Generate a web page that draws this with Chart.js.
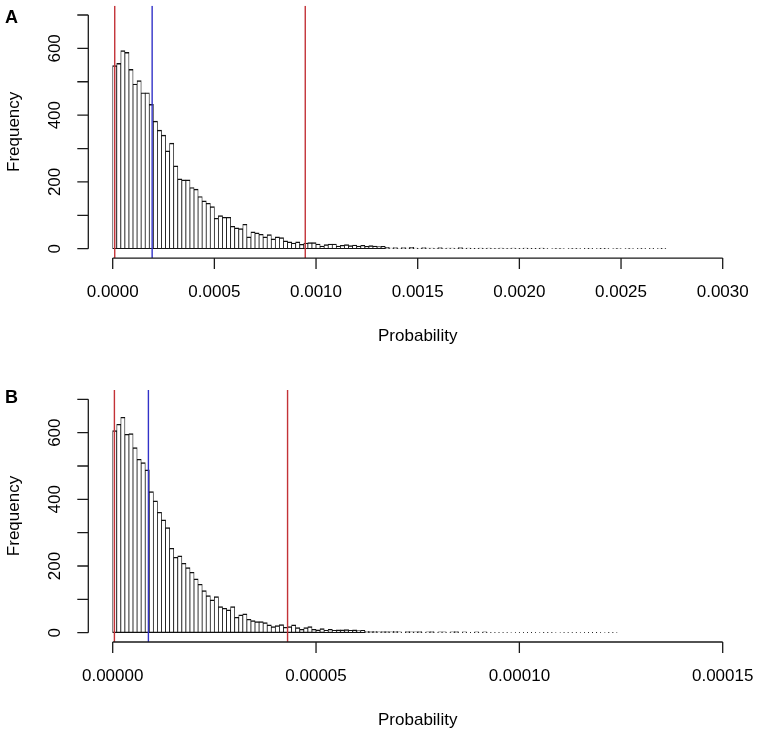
<!DOCTYPE html>
<html>
<head>
<meta charset="utf-8">
<script src="https://cdn.jsdelivr.net/npm/chart.js@4.4.1/dist/chart.umd.min.js"></script>
<style>
  html, body { margin: 0; padding: 0; background: #fff; }
  canvas { display: block; }
</style>
</head>
<body>
<canvas id="chartA" width="758" height="365"></canvas>
<canvas id="chartB" width="758" height="366"></canvas>
<script>
// histogram A: bins of 0.00002 starting at 0
const binStartA = 0;
const binWidthA = 0.00002;
const countsA = [
  548, 555, 593, 588, 537, 493, 503, 467, 467, 432,
  382, 355, 340, 293, 316, 248, 209, 206, 206, 183,
  178, 156, 143, 136, 126, 91, 99, 94, 94, 67,
  62, 60, 73, 35, 50, 47, 43, 35, 42, 29,
  35, 33, 23, 20, 17, 20, 13, 17, 18, 18,
  14, 8, 12, 14, 14, 8, 10, 12, 9, 11,
  8, 10, 7, 9, 8, 6, 7, 4, 2, 3,
  1, 3, 2, 4, 2, 1, 3, 2, 2, 1,
  3, 1, 2, 2, 1, 3, 1, 2, 1, 1,
  2, 1, 2, 1, 1, 2, 1, 1, 2, 1,
  1, 2, 1, 1, 1, 2, 1, 0, 1, 1,
  1, 0, 1, 1, 1, 0, 1, 1, 0, 1,
  1, 1, 0, 1, 1, 0, 1, 1, 0, 1,
  1, 0, 1, 0, 1, 1
];
const vlinesRedA = [0.00001, 0.000947];
const vlinesBlueA = [0.000194];
const xTicksA = [0, 0.0005, 0.001, 0.0015, 0.002, 0.0025, 0.003];

// histogram B: bins of 0.000001 starting at 0
const binStartB = 0;
const binWidthB = 0.000001;
const countsB = [
  606, 625, 646, 595, 597, 555, 520, 510, 488, 423,
  395, 361, 338, 315, 253, 226, 230, 208, 195, 181,
  161, 145, 126, 111, 98, 108, 78, 73, 68, 78,
  46, 53, 56, 40, 36, 33, 33, 30, 23, 18,
  21, 24, 16, 18, 23, 15, 10, 15, 18, 10,
  8, 12, 7, 10, 7, 8, 8, 9, 7, 8,
  6, 7, 4, 3, 4, 2, 3, 3, 2, 4,
  2, 1, 3, 2, 2, 3, 1, 2, 3, 1,
  2, 2, 1, 2, 3, 1, 2, 1, 1, 2,
  1, 2, 1, 1, 1, 1, 1, 1, 0, 1,
  1, 1, 1, 1, 0, 1, 1, 1, 1, 0,
  1, 1, 1, 1, 1, 0, 1, 1, 1, 1,
  0, 1, 1, 1
];
const vlinesRedB = [0.00000042, 0.000043];
const vlinesBlueB = [0.00000878];
const xTicksB = [0, 0.00005, 0.0001, 0.00015];

const yTicks = [0, 100, 200, 300, 400, 500, 600, 700];
const yLabels = [0, 200, 400, 600];

const FONT = '"Liberation Sans", Arial, Helvetica, sans-serif';

// R-style detached axes drawn from the chart's own scales
const rAxes = {
  id: 'rAxes',
  afterDraw(chart, args, opts) {
    const { ctx, chartArea } = chart;
    const x = chart.scales.x, y = chart.scales.y;
    const tick = 11;
    ctx.save();
    ctx.strokeStyle = '#1a1a1a';
    ctx.fillStyle = '#000';
    ctx.lineWidth = 1.3;

    // x axis
    const ax = chartArea.bottom;
    const x0 = x.getPixelForValue(opts.xTicks[0]);
    const x1 = x.getPixelForValue(opts.xTicks[opts.xTicks.length - 1]);
    ctx.beginPath();
    ctx.moveTo(x0, ax); ctx.lineTo(x1, ax);
    opts.xTicks.forEach(v => {
      const px = x.getPixelForValue(v);
      ctx.moveTo(px, ax); ctx.lineTo(px, ax + tick);
    });
    ctx.stroke();
    ctx.font = '17px ' + FONT;
    ctx.textAlign = 'center';
    ctx.textBaseline = 'middle';
    opts.xTicks.forEach(v => {
      ctx.fillText(v.toFixed(opts.digits), x.getPixelForValue(v), ax + 34);
    });
    ctx.fillText('Probability', (chartArea.left + chartArea.right) / 2, ax + 78);

    // y axis
    const ay = chartArea.left;
    ctx.beginPath();
    ctx.moveTo(ay, y.getPixelForValue(yTicks[0]));
    ctx.lineTo(ay, y.getPixelForValue(yTicks[yTicks.length - 1]));
    yTicks.forEach(v => {
      const py = y.getPixelForValue(v);
      ctx.moveTo(ay, py); ctx.lineTo(ay - tick, py);
    });
    ctx.stroke();
    yLabels.forEach(v => {
      ctx.save();
      ctx.translate(ay - 33, y.getPixelForValue(v));
      ctx.rotate(-Math.PI / 2);
      ctx.fillText(String(v), 0, 0);
      ctx.restore();
    });
    ctx.save();
    ctx.translate(ay - 74, (chartArea.top + chartArea.bottom) / 2);
    ctx.rotate(-Math.PI / 2);
    ctx.fillText('Frequency', 0, 0);
    ctx.restore();

    // panel letter
    ctx.font = 'bold 18px ' + FONT;
    ctx.textAlign = 'left';
    ctx.textBaseline = 'alphabetic';
    ctx.fillText(opts.letter, 5, opts.letterY);
    ctx.restore();
  }
};

function vline(v, color) {
  return {
    type: 'line',
    data: [{ x: v, y: -28 }, { x: v, y: 728 }],
    borderColor: color,
    borderWidth: 1.4,
    pointRadius: 0,
    order: 1
  };
}

function makeHist(id, counts, start, width, reds, blues, xTicks, digits, xMin, xMax, padding, letter, letterY) {
  const bars = counts.map((c, i) => ({ x: start + (i + 0.5) * width, y: c }));
  const datasets = [{
    type: 'bar',
    data: bars,
    backgroundColor: '#fff',
    borderColor: '#111',
    borderWidth: { top: 1.4, left: 0.8, right: 0.8, bottom: 1.2 },
    borderSkipped: false,
    inflateAmount: 0.4,
    barPercentage: 1,
    categoryPercentage: 1,
    order: 2
  }];
  blues.forEach(v => datasets.push(vline(v, 'rgb(50,50,200)')));
  reds.forEach(v => datasets.push(vline(v, 'rgb(195,50,55)')));

  new Chart(document.getElementById(id), {
    type: 'bar',
    data: { datasets: datasets },
    options: {
      responsive: false,
      animation: false,
      layout: { padding: padding },
      plugins: {
        legend: { display: false },
        tooltip: { enabled: false },
        rAxes: { xTicks: xTicks, digits: digits, letter: letter, letterY: letterY }
      },
      scales: {
        x: { type: 'linear', min: xMin, max: xMax, offset: false, display: false },
        y: { type: 'linear', min: -28, max: 728, display: false }
      }
    },
    plugins: [rAxes]
  });
}

makeHist('chartA', countsA, binStartA, binWidthA, vlinesRedA, vlinesBlueA, xTicksA, 4,
  -0.00012, 0.00312, { left: 88.3, right: 10.9, top: 5.65, bottom: 106.95 }, 'A', 23);
makeHist('chartB', countsB, binStartB, binWidthB, vlinesRedB, vlinesBlueB, xTicksB, 5,
  -0.000006, 0.000156, { left: 88.3, right: 10.9, top: 25, bottom: 89 }, 'B', 38);
</script>
</body>
</html>
